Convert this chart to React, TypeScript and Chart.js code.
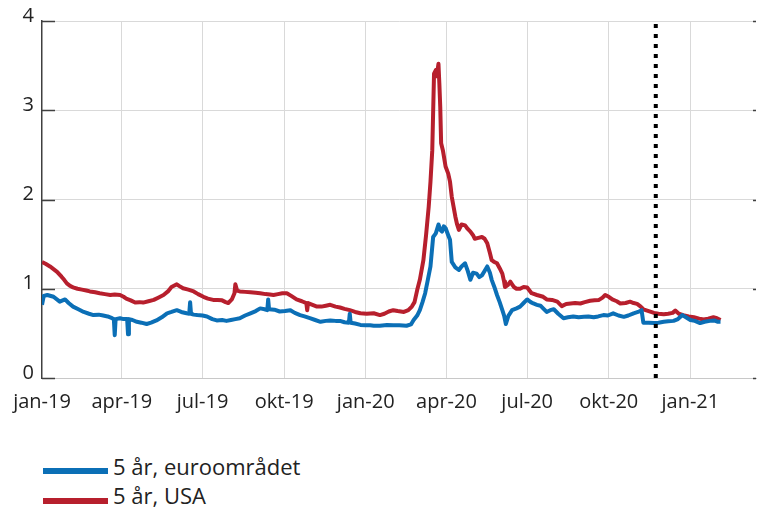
import React, { useEffect, useRef } from "react";
import { Chart, registerables } from "chart.js";

Chart.register(...registerables);

// x = days since 2019-01-01
const quarterTickDays = [0, 90, 181, 273, 365, 456, 547, 639, 731];
const quarterTickLabels = ["jan-19", "apr-19", "jul-19", "okt-19", "jan-20", "apr-20", "jul-20", "okt-20", "jan-21"];
const yTicks = [0, 1, 2, 3, 4];
const markerDay = 692;

const euroDays = [
  0, 2, 6, 13, 20, 26, 30, 35, 41, 47, 53, 58, 64, 69, 74, 79, 81, 82, 83, 88, 92, 96, 97, 98, 102, 107, 112, 118, 123, 129,
  135, 141, 146, 152, 157, 163, 166, 167, 168, 171, 175, 181, 186, 192, 197, 203, 208, 213, 218, 223, 229, 235, 241, 246, 251,
  254, 255, 256, 262, 268, 274, 280, 285, 291, 296, 302, 308, 314, 320, 325, 331, 336, 341, 346, 347, 348, 353, 359, 365, 370,
  374, 381, 389, 396, 403, 411, 416, 419, 423, 426, 429, 432, 435, 438, 441, 444, 447, 449, 451, 453, 455, 458, 460, 462, 466,
  470, 473, 477, 480, 483, 486, 490, 493, 496, 499, 502, 505, 507, 510, 513, 516, 519, 521, 523, 526, 530, 535, 539, 543, 547,
  551, 554, 558, 562, 565, 569, 573, 577, 582, 588, 593, 599, 605, 611, 616, 622, 627, 633, 638, 644, 650, 656, 661, 667, 672,
  676, 678, 684, 690, 695, 701, 706, 712, 717, 722, 726, 731, 736, 742, 747, 753, 758, 762, 765,
];
const euroValues = [
  0.82, 0.92, 0.93, 0.91, 0.855, 0.88, 0.84, 0.8, 0.77, 0.74, 0.72, 0.705, 0.71, 0.7, 0.69, 0.67, 0.66, 0.48, 0.66, 0.67, 0.66,
  0.66, 0.49, 0.66, 0.65, 0.63, 0.62, 0.605, 0.62, 0.645, 0.68, 0.725, 0.74, 0.76, 0.74, 0.725, 0.72, 0.85, 0.72, 0.71, 0.705,
  0.7, 0.69, 0.66, 0.645, 0.65, 0.64, 0.65, 0.66, 0.67, 0.7, 0.725, 0.75, 0.78, 0.77, 0.76, 0.88, 0.77, 0.765, 0.745, 0.75,
  0.76, 0.73, 0.705, 0.69, 0.67, 0.65, 0.63, 0.64, 0.645, 0.64, 0.64, 0.625, 0.62, 0.72, 0.62, 0.61, 0.595, 0.59, 0.59, 0.585,
  0.585, 0.595, 0.59, 0.59, 0.585, 0.6, 0.65, 0.7, 0.76, 0.85, 0.95, 1.1, 1.25, 1.58, 1.62, 1.72, 1.66, 1.64, 1.7, 1.68, 1.6,
  1.55, 1.3, 1.24, 1.21, 1.25, 1.285, 1.2, 1.1, 1.18, 1.17, 1.13, 1.15, 1.2, 1.25, 1.18, 1.1, 1.02, 0.93, 0.85, 0.76, 0.7,
  0.605, 0.7, 0.76, 0.78, 0.8, 0.84, 0.88, 0.85, 0.835, 0.82, 0.81, 0.78, 0.74, 0.76, 0.77, 0.72, 0.67, 0.68, 0.69, 0.68,
  0.685, 0.69, 0.68, 0.69, 0.705, 0.7, 0.725, 0.7, 0.685, 0.7, 0.725, 0.74, 0.76, 0.62, 0.62, 0.615, 0.62, 0.63, 0.635, 0.64,
  0.66, 0.705, 0.68, 0.65, 0.64, 0.615, 0.63, 0.64, 0.645, 0.63, 0.63,
];

const usaDays = [
  0, 4, 9, 13, 17, 22, 25, 28, 32, 35, 40, 45, 50, 54, 60, 65, 71, 77, 82, 88, 92, 95, 100, 105, 110, 114, 120, 126, 131, 137,
  142, 146, 152, 155, 159, 165, 171, 176, 182, 187, 193, 198, 203, 207, 210, 214, 217, 218, 220, 223, 229, 235, 241, 246, 252,
  257, 261, 266, 271, 276, 281, 287, 293, 298, 299, 300, 305, 310, 315, 320, 325, 331, 336, 341, 347, 353, 359, 366, 374, 381,
  386, 391, 396, 401, 408, 413, 417, 420, 423, 426, 430, 433, 436, 438, 440, 442, 444, 445, 447, 448, 449, 450, 452, 455, 458,
  460, 462, 464, 466, 468, 470, 473, 477, 480, 483, 486, 488, 492, 496, 499, 502, 505, 507, 510, 513, 516, 519, 521, 522, 525,
  528, 530, 532, 535, 539, 543, 547, 552, 558, 565, 569, 575, 581, 586, 591, 596, 601, 607, 612, 618, 623, 628, 632, 635, 639,
  643, 648, 652, 658, 663, 667, 671, 675, 678, 684, 690, 695, 701, 706, 711, 714, 718, 723, 729, 735, 741, 746, 751, 757, 761,
  765,
];
const usaValues = [
  1.3, 1.28, 1.25, 1.22, 1.19, 1.135, 1.1, 1.06, 1.03, 1.015, 1.0, 0.99, 0.98, 0.97, 0.96, 0.95, 0.94, 0.93, 0.935, 0.93, 0.91,
  0.89, 0.87, 0.845, 0.85, 0.845, 0.86, 0.875, 0.9, 0.93, 0.97, 1.02, 1.05, 1.03, 1.005, 0.99, 0.97, 0.94, 0.91, 0.89, 0.875,
  0.875, 0.87, 0.85, 0.84, 0.88, 0.95, 1.05, 0.98, 0.97, 0.965, 0.96, 0.955, 0.95, 0.94, 0.935, 0.93, 0.94, 0.95, 0.95, 0.92,
  0.88, 0.86, 0.84, 0.76, 0.84, 0.82, 0.8, 0.8, 0.81, 0.82, 0.8, 0.79, 0.775, 0.76, 0.74, 0.725, 0.72, 0.725, 0.705, 0.72,
  0.745, 0.76, 0.75, 0.74, 0.76, 0.8, 0.85, 0.985, 1.1, 1.32, 1.6, 1.92, 2.2, 2.55, 3.41, 3.45, 3.38, 3.52, 3.3, 3.04, 2.63,
  2.55, 2.37, 2.29, 2.2, 2.03, 1.92, 1.81, 1.72, 1.66, 1.72, 1.71, 1.67, 1.64, 1.6, 1.56, 1.57, 1.58, 1.56, 1.51, 1.4, 1.32,
  1.3, 1.285, 1.23, 1.17, 1.08, 1.02, 1.04, 1.08, 1.05, 1.02, 1.0, 1.0, 1.02, 1.015, 0.95, 0.93, 0.91, 0.88, 0.875, 0.855,
  0.805, 0.83, 0.835, 0.84, 0.835, 0.85, 0.865, 0.87, 0.875, 0.9, 0.93, 0.91, 0.88, 0.86, 0.835, 0.84, 0.855, 0.84, 0.83, 0.8,
  0.77, 0.75, 0.73, 0.72, 0.715, 0.72, 0.73, 0.755, 0.72, 0.705, 0.69, 0.68, 0.665, 0.655, 0.665, 0.68, 0.67, 0.65,
];

const BLUE = "#0b6fb6";
const RED = "#b71f2d";
const TEXT = "#222222";
const GRID = "#d9d9d9";
const FONT = "'Open Sans', 'DejaVu Sans', sans-serif";

const toPoints = (xs: number[], ys: number[]) => xs.map((x, i) => ({ x, y: ys[i] }));

const axisTicksPlugin = {
  id: "axisTicks",
  beforeDatasetsDraw(chart: any) {
    const { ctx, chartArea, scales } = chart;
    const y = scales.y;
    ctx.save();
    ctx.strokeStyle = "#404040";
    ctx.lineWidth = 1.5;
    yTicks.forEach((v) => {
      const py = Math.round(y.getPixelForValue(v)) + 0.5;
      ctx.beginPath();
      ctx.moveTo(chartArea.left, py);
      ctx.lineTo(chartArea.left + 13, py);
      ctx.moveTo(chartArea.right - 3, py);
      ctx.lineTo(chartArea.right, py);
      ctx.stroke();
    });
    ctx.restore();
  },
};

export default function App() {
  const canvasRef = useRef<HTMLCanvasElement | null>(null);

  useEffect(() => {
    if (!canvasRef.current) return;
    const chart = new Chart(canvasRef.current, {
      type: "line",
      data: {
        datasets: [
          {
            label: "marker",
            data: [
              { x: markerDay, y: yTicks[0] },
              { x: markerDay, y: yTicks[yTicks.length - 1] },
            ],
            borderColor: "#000000",
            borderWidth: 4,
            borderDash: [4, 6],
            borderCapStyle: "butt",
            pointRadius: 0,
            tension: 0,
          },
          {
            label: "5 år, euroområdet",
            data: toPoints(euroDays, euroValues),
            borderColor: BLUE,
            borderWidth: 4,
            pointRadius: 0,
            tension: 0,
            borderJoinStyle: "round",
          },
          {
            label: "5 år, USA",
            data: toPoints(usaDays, usaValues),
            borderColor: RED,
            borderWidth: 4,
            pointRadius: 0,
            tension: 0,
            borderJoinStyle: "round",
          },
        ],
      },
      options: {
        animation: false,
        responsive: false,
        maintainAspectRatio: false,
        layout: { padding: { top: 21, right: 2, left: 0, bottom: 0 } },
        plugins: { legend: { display: false }, tooltip: { enabled: false } },
        scales: {
          x: {
            type: "linear",
            min: 0,
            max: 805,
            afterBuildTicks: (scale: any) => {
              scale.ticks = quarterTickDays.map((v) => ({ value: v }));
            },
            afterFit: (scale: any) => {
              scale.height = 52;
            },
            ticks: {
              autoSkip: false,
              maxRotation: 0,
              padding: 12,
              color: TEXT,
              font: { family: FONT, size: 20 },
              callback: (_v: any, i: number) => quarterTickLabels[i],
            },
            grid: {
              color: (ctx: any) => (ctx.index === 0 ? "rgba(0,0,0,0)" : GRID),
              drawTicks: false,
              lineWidth: 1,
            },
            border: { color: "#c8c8c8", width: 1 },
          },
          y: {
            min: 0,
            max: 4,
            afterBuildTicks: (scale: any) => {
              scale.ticks = yTicks.map((v) => ({ value: v }));
            },
            afterFit: (scale: any) => {
              scale.width = 42;
            },
            ticks: {
              padding: 8,
              labelOffset: -5,
              color: TEXT,
              font: { family: FONT, size: 20 },
              callback: (v: any) => String(v),
            },
            grid: { color: GRID, drawTicks: false, lineWidth: 1 },
            border: { color: "#404040", width: 1.5 },
          },
        },
      },
      plugins: [axisTicksPlugin],
    });
    return () => chart.destroy();
  }, []);

  const legendText: React.CSSProperties = {
    position: "absolute",
    left: 113,
    fontFamily: FONT,
    fontSize: 22,
    lineHeight: "30px",
    color: TEXT,
    whiteSpace: "nowrap",
  };

  return (
    <div
      style={{
        position: "absolute",
        left: 0,
        top: 0,
        width: 758,
        height: 508,
        background: "#ffffff",
        overflow: "hidden",
      }}
    >
      <canvas ref={canvasRef} width={758} height={430} style={{ display: "block", width: 758, height: 430 }} />
      <div style={{ position: "absolute", left: 43, top: 468, width: 65, height: 6, background: BLUE }} />
      <div style={{ ...legendText, top: 451 }}>5 år, euroområdet</div>
      <div style={{ position: "absolute", left: 43, top: 498, width: 65, height: 6, background: RED }} />
      <div style={{ ...legendText, top: 480 }}>5 år, USA</div>
    </div>
  );
}
